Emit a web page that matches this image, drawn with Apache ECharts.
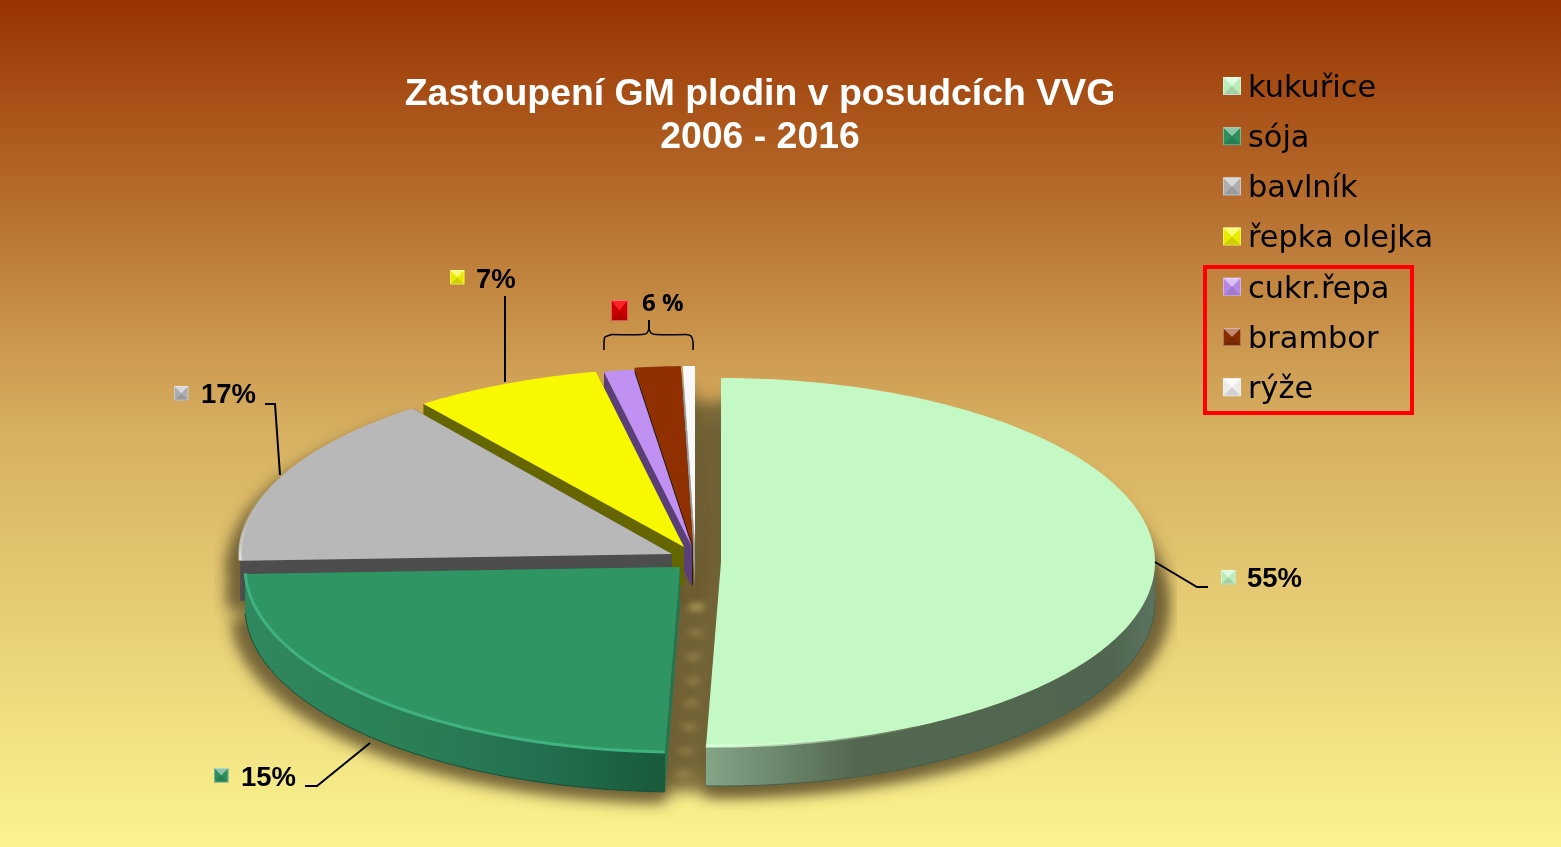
<!DOCTYPE html>
<html><head><meta charset="utf-8">
<style>html,body{margin:0;padding:0;background:#fff}#c{width:1561px;height:847px}</style>
<script src="https://cdn.jsdelivr.net/npm/echarts@6/dist/echarts.min.js"></script>
</head><body><div id="c"></div>
<script>
// ---- data ----
const categories = ['kukuřice','sója','bavlník','řepka olejka','cukr.řepa','brambor','rýže'];
const sliceShares = [50.55, 23.85, 15.35, 7, 1.1, 1.7, 0.45];   // drawn size of each slice, %
const printedLabels = ['55%','15%','17%','7%'];
const groupLabel = '6 %';
const titleLines = ['Zastoupení GM plodin v posudcích VVG','2006 - 2016'];

// ---- styles and layout ----
const topColors  = ['#c4f8c5','#2f9562','#b8b8b8','#f8f800','#c090f2','#903000','#f8f8f8'];
const wallColors = ['#52664f','#267450','#4d4d4d','#666600','#5a3f78','#3a1a05','#9a9a9a'];
const geom = [
  {cx:721,cy:562,a:434,b:184},{cx:680,cy:567,a:435,b:185},{cx:672,cy:554,a:432,b:182},
  {cx:684,cy:547,a:434,b:179},{cx:692,cy:547,a:434,b:179},{cx:693,cy:546,a:434,b:180},{cx:695,cy:546,a:434,b:180}
];
const depth = 40;
const LG = echarts.graphic.LinearGradient;
const wallFill = [
  new LG(707,0,1155,0,[{offset:0,color:'#84a486'},{offset:.33,color:'#53684f'},{offset:.9,color:'#506650'},{offset:1,color:'#5a7360'}],true),
  new LG(245,0,663,0,[{offset:0,color:'#30885f'},{offset:.4,color:'#2a7f55'},{offset:.7,color:'#237050'},{offset:1,color:'#195a3b'}],true),
  null,null,null,null,null
];
const wallEdge = ['#44604d','#17503a',null,null,null,null,null];
const highlight = [
  {from:135,to:182,w:3,color:new LG(707,0,930,0,[{offset:0,color:'#dcffdc'},{offset:1,color:'rgba(196,248,197,0)'}],true)},
  {from:182,to:268,w:3,color:'#3fb27f'},
  {from:268,to:290,w:3,color:new LG(0,560,0,490,[{offset:0,color:'#e0e0e0'},{offset:1,color:'rgba(184,184,184,0)'}],true)},
  null,null,null,null
];
let run = 0;
const starts = sliceShares.map(v => { const s = run; run += v; return s; });

function rimPoint(g, deg){ const t = deg*Math.PI/180; return [g.cx+g.a*Math.sin(t), g.cy-g.b*Math.cos(t)]; }
function arc(g, d0, d1){ const pts=[]; const n=Math.max(2,Math.ceil(Math.abs(d1-d0)/1)); for(let i=0;i<=n;i++) pts.push(rimPoint(g,d0+(d1-d0)*i/n)); return pts; }
function shift(pts,dx,dy){ return pts.map(p=>[p[0]+dx,p[1]+dy]); }

function renderSlice(i){
  return function(params, api){
    const g = geom[i];
    const t0 = api.value(1)*3.6, t1 = (api.value(1)+api.value(0))*3.6;
    const children = [];
    const apex = [g.cx,g.cy], fill = wallColors[i];
    // radial cut faces
    [t0,t1].forEach(t=>{
      const r = rimPoint(g,t);
      children.push({type:'polygon',shape:{points:[apex,r,[r[0],r[1]+depth],[apex[0],apex[1]+depth]]},style:{fill}});
    });
    // outer wall (front half of rim)
    const w0 = Math.max(t0,90), w1 = Math.min(t1,270);
    if (w1 > w0){
      const rim = arc(g,w0,w1);
      children.push({type:'polygon',shape:{points:rim.concat(shift(rim,0,depth).reverse())},style:{fill:wallFill[i]||fill}});
      if (wallEdge[i]) children.push({type:'polyline',shape:{points:shift(rim,0,depth)},style:{stroke:wallEdge[i],lineWidth:1,fill:'none'}});
    }
    // top face
    children.push({type:'polygon',shape:{points:[apex].concat(arc(g,t0,t1))},style:{fill:topColors[i]}});
    const h = highlight[i];
    if (h) children.push({type:'polyline',shape:{points:arc(g,h.from,h.to)},style:{stroke:h.color,lineWidth:h.w,fill:'none'}});
    return {type:'group',children};
  };
}
// Shadows are drawn with the casting shape parked off-canvas, so only the soft blur shows.
const OFF = 3000;
function softShape(type, shape, color, blur, z2){
  return {type, z2:z2||0, shape, style:{fill:'#000',shadowBlur:blur,shadowColor:color,shadowOffsetX:OFF}};
}
function renderShadow(params, api){
  const i = params.dataIndex, g = geom[i];
  const t0 = api.value(1)*3.6, t1 = (api.value(1)+api.value(0))*3.6;
  const pts = [[g.cx,g.cy]].concat(arc({cx:g.cx,cy:g.cy,a:g.a+8,b:g.b},t0,t1));
  const wide = [[g.cx,g.cy]].concat(arc({cx:g.cx,cy:g.cy,a:g.a+13,b:g.b+3},t0,t1));
  const col = 'rgba(113,97,54,.85)';
  const kids = [
    softShape('polygon',{points:shift(pts,-OFF,24)},col,18),
    softShape('polygon',{points:shift(pts,-OFF,depth+8)},col,18),
    softShape('polygon',{points:shift(wide,-OFF,depth+6)},col,14)
  ];
  if (i===2) kids.push(softShape('polygon',{points:shift(wide,-OFF,12)},col,14));
  if (i===0){
    const disc = arc({cx:700,cy:562,a:420,b:184},0,360);
    kids.push(softShape('polygon',{points:shift(disc,-OFF,24)},col,14),softShape('polygon',{points:shift(disc,-OFF,46)},col,14));
    [[696,607],[696,633],[693,657],[693,681],[691,703],[689,727],[686,751],[684,774]].forEach((p,k)=>{
      kids.push(softShape('ellipse',{cx:p[0]-OFF,cy:p[1],rx:8,ry:3},k===0?'rgba(195,175,105,.95)':'rgba(170,150,90,.7)',7,5));
    });
  }
  return {type:'group',children:kids,clipPath:{type:'rect',shape:{x:214,y:380,width:963,height:440}}};
}

function bevel(x,y,w,h,color,top){
  const cx=x+w/2, cy=y+h/2, tl=[x,y], tr=[x+w,y], br=[x+w,y+h], bl=[x,y+h], c=[cx,cy];
  const tri=(a,b,f)=>({type:'polygon',shape:{points:[a,b,c]},style:{fill:f}});
  const els=[];
  if(color) els.push({type:'rect',shape:{x,y,width:w,height:h},style:{fill:color}});
  els.push(tri(tl,tr,top||'rgba(255,255,255,.45)'),tri(tr,br,'rgba(0,0,0,.05)'),tri(br,bl,'rgba(0,0,0,.16)'),tri(bl,tl,'rgba(0,0,0,.05)'));
  els.push({type:'rect',shape:{x:x+.5,y:y+.5,width:w-1,height:h-1},style:{fill:'none',stroke:'rgba(255,255,255,.35)',lineWidth:1}});
  return els;
}
const labelFont = {fill:'#000',font:'bold 27.5px "Liberation Sans"',textVerticalAlign:'middle'};
const labelPos = [[1247,579],[241,778],[201,395],[476,280]];
const markerPos = [[1221,570],[214,768],[174,386],[450,270]];
const leaders = [
  [[1155,562],[1197,587],[1208,587]],
  [[370,743],[317,786],[305,786]],
  [[280,475],[275,404],[265,404]],
  [[505,296],[505,382]]
];
const graphics = [];
leaders.forEach(p=>graphics.push({type:'polyline',shape:{points:p},style:{stroke:'#000',lineWidth:2,fill:'none'}}));
printedLabels.forEach((t,i)=>{
  graphics.push({type:'text',x:labelPos[i][0],y:labelPos[i][1],style:Object.assign({text:t},labelFont)});
  bevel(markerPos[i][0],markerPos[i][1],14.5,14.5,topColors[i]).forEach(e=>graphics.push(e));
});
graphics.push({type:'text',x:642,y:304,style:{text:groupLabel,fill:'#000',font:'bold 24px "Open Sans"',textVerticalAlign:'middle'}});
bevel(611,300,17,21,'#d80000','rgba(255,40,40,.9)').forEach(e=>graphics.push(e));
[
 [[604,350],[604,342],[605,337],[610,335],[612,334.5]],
 [[612,334.5],[642,334.5],[647,333],[649,328],[649,320]],
 [[649,320],[649,328],[651,333],[656,334.5],[686,334.5]],
 [[686,334.5],[691,336],[693,342],[693,350]]
].forEach(p=>graphics.push({type:'polyline',shape:{points:p,smooth:.3},style:{stroke:'#000',lineWidth:1.6,fill:'none'}}));
graphics.push({type:'rect',shape:{x:1205,y:267,width:207,height:146},style:{fill:'none',stroke:'#ff0000',lineWidth:4}});
const legendY = [77,127.2,177.4,227.6,277.8,328,378.2];
legendY.forEach(y=>bevel(1223,y,18,18,null).forEach(e=>graphics.push(e)));
graphics.forEach(e=>{e.z=30;});

const series = [{
  type:'custom',name:'stín',coordinateSystem:'none',z:1,silent:true,renderItem:renderShadow,
  data:sliceShares.map((v,i)=>[v,starts[i]])
}];
[6,5,4,3,2,1,0].forEach((i,k)=>series.push({
  type:'custom',name:categories[i],coordinateSystem:'none',z:2+k,silent:true,
  itemStyle:{color:topColors[i]},renderItem:renderSlice(i),data:[[sliceShares[i],starts[i]]]
}));

const chart = echarts.init(document.getElementById('c'),null,{renderer:'canvas'});
chart.setOption({
  animation:false,
  backgroundColor:new LG(0,0,0,1,[{offset:0,color:'#993300'},{offset:.5,color:'#d6ae60'},{offset:1,color:'#fbf48f'}]),
  title:{text:titleLines.join('\n'),left:755,top:68,textAlign:'center',
    textStyle:{color:'#fff',fontFamily:'Liberation Sans',fontWeight:'bold',fontSize:37.4,lineHeight:43}},
  legend:{orient:'vertical',left:1223,top:71,padding:0,data:categories,
    icon:'path://M0 0H18V18H0Z M0 24L0.01 24Z',itemWidth:18,itemHeight:24,itemGap:14.2,
    selectedMode:false,textStyle:{color:'#000',fontFamily:'DejaVu Sans',fontSize:30.4,lineHeight:36,padding:[0,0,0,2]}},
  graphic:{elements:graphics},
  series
});
</script></body></html>
